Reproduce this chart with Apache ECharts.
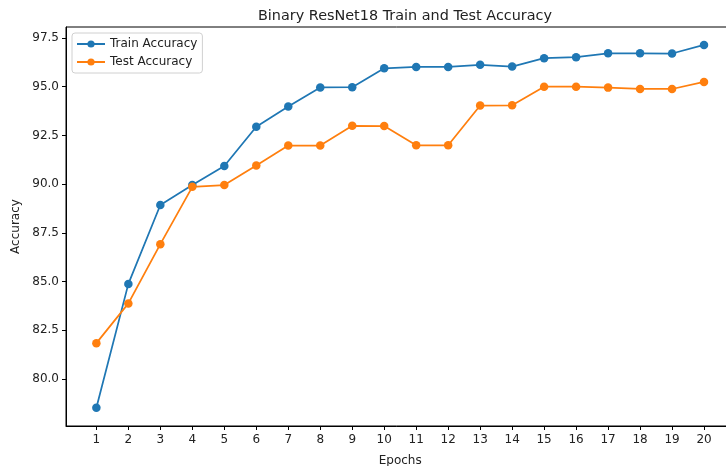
<!DOCTYPE html>
<html>
<head>
<meta charset="utf-8">
<script src="https://cdn.jsdelivr.net/npm/echarts@6/dist/echarts.min.js"></script>
<style>html,body{margin:0;padding:0;background:#fff}#c{width:726px;height:466px}</style>
</head>
<body>
<div id="c"></div>
<script>
const epochs = [1,2,3,4,5,6,7,8,9,10,11,12,13,14,15,16,17,18,19,20];
const trainAcc = [78.53,84.88,88.93,89.95,90.93,92.94,93.98,94.96,94.97,95.94,96.01,96.01,96.12,96.03,96.46,96.51,96.71,96.71,96.70,97.14];
const testAcc = [81.84,83.88,86.92,89.86,89.95,90.96,91.98,91.98,92.99,92.98,91.99,91.99,94.03,94.04,95.00,95.00,94.95,94.88,94.88,95.24];
const yTicks = [80.0,82.5,85.0,87.5,90.0,92.5,95.0,97.5];

const font = 'DejaVu Sans';
const txt = '#222';
const chart = echarts.init(document.getElementById('c'), null, {renderer:'canvas'});
chart.setOption({
  animation: false,
  title: {
    text: 'Binary ResNet18 Train and Test Accuracy',
    left: 400, top: 4, textAlign: 'center',
    textStyle: {fontFamily: font, fontSize: 14.4, fontWeight: 'normal', color: txt}
  },
  legend: {
    orient: 'vertical', left: 72, top: 33,
    itemWidth: 28, itemHeight: 9, itemGap: 6,
    padding: [5, 5, 5, 4],
    borderColor: '#d0d0d0', borderWidth: 1, borderRadius: 3,
    backgroundColor: 'rgba(255,255,255,0.8)',
    textStyle: {fontFamily: font, fontSize: 12, color: txt},
    data: ['Train Accuracy', 'Test Accuracy']
  },
  grid: {left: 66, top: 27, right: -8.4, bottom: 40, outerBoundsMode: 'none', containLabel: false,
    show: true, borderColor: '#000', borderWidth: 1, backgroundColor: 'transparent'},
  xAxis: {
    type: 'value', min: 0.05, max: 20.95,
    name: 'Epochs', nameLocation: 'middle', nameGap: 29,
    nameTextStyle: {fontFamily: font, fontSize: 12, color: txt},
    axisLine: {show: true, onZero: false, lineStyle: {color: '#000', width: 1}},
    axisTick: {show: true, length: 4, lineStyle: {color: '#000'}, customValues: epochs},
    axisLabel: {fontFamily: font, fontSize: 12, color: txt, margin: 8, customValues: epochs},
    splitLine: {show: false}
  },
  yAxis: {
    type: 'value', min: 77.59, max: 98.06,
    name: 'Accuracy', nameLocation: 'middle', nameGap: 39, nameRotate: 90,
    nameTextStyle: {fontFamily: font, fontSize: 12, color: txt},
    axisLine: {show: true, lineStyle: {color: '#000', width: 1}},
    axisTick: {show: true, length: 4, lineStyle: {color: '#000'}, customValues: yTicks},
    axisLabel: {fontFamily: font, fontSize: 12, color: txt, margin: 7, customValues: yTicks,
      formatter: v => v.toFixed(1)},
    splitLine: {show: false}
  },
  series: [
    {name: 'Train Accuracy', type: 'line', data: epochs.map((e,i)=>[e, trainAcc[i]]),
     color: '#1f77b4', symbol: 'circle', symbolSize: 8.5, lineStyle: {width: 1.75}, itemStyle: {color: '#1f77b4'}},
    {name: 'Test Accuracy', type: 'line', data: epochs.map((e,i)=>[e, testAcc[i]]),
     color: '#ff7f0e', symbol: 'circle', symbolSize: 8.5, lineStyle: {width: 1.75}, itemStyle: {color: '#ff7f0e'}}
  ]
});
</script>
</body>
</html>
